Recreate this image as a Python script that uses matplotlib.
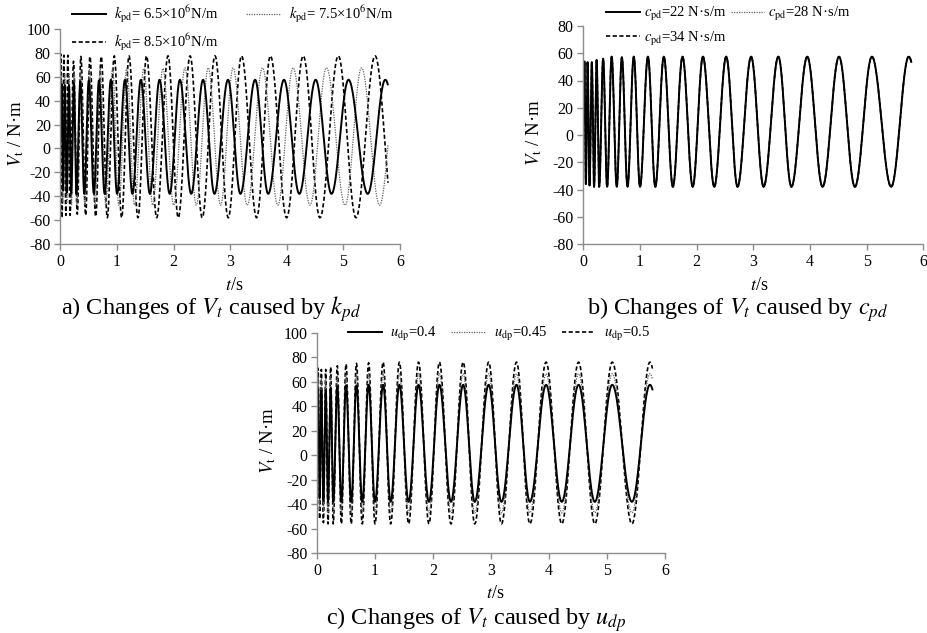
import numpy as np
import matplotlib
matplotlib.use('Agg')
import matplotlib.pyplot as plt
from matplotlib.lines import Line2D

plt.rcParams['font.family'] = ['Liberation Serif', 'DejaVu Serif']
plt.rcParams['mathtext.fontset'] = 'stix'
plt.rcParams['axes.unicode_minus'] = False

T_END = 5.79
V_START = 10.0

# ---------------- base response (solid curve in every panel) ----------------
base_peak_t = [0.02, 0.075, 0.15, 0.235, 0.35, 0.50, 0.68, 0.89, 1.14, 1.42,
               1.75, 2.11, 2.52, 2.96, 3.44, 3.95, 4.51, 5.09, 5.74]
base_trough_t = [0.045, 0.11, 0.19, 0.28, 0.42, 0.59, 0.78, 1.00, 1.27, 1.58,
                 1.93, 2.31, 2.72, 3.18, 3.67, 4.22, 4.79, 5.43, 6.08]

# ---------------- panel a: k_pd ----------------
k65_peak_v = [54, 53, 53, 55, 56, 57, 57, 57.5, 57.5, 57.5, 57.5, 57.5, 57.5,
              57.5, 57.5, 57.5, 57.5, 57.5, 57.5]
k65_trough_v = [-35, -37, -38, -38, -38, -38, -38, -38, -38, -38, -38, -38,
                -38, -38, -38, -38, -38, -38, -38]

k75_peak_t = [0.015, 0.075, 0.15, 0.24, 0.36, 0.51, 0.70, 0.92, 1.17, 1.47,
              1.81, 2.20, 2.61, 3.05, 3.57, 4.11, 4.70, 5.32, 5.96]
k75_trough_t = [0.04, 0.11, 0.195, 0.29, 0.43, 0.61, 0.80, 1.03, 1.31, 1.63,
                2.00, 2.40, 2.83, 3.30, 3.84, 4.41, 5.03, 5.64]
k75_peak_v = [62, 62, 63, 64, 65, 66, 66.5, 67, 67, 67, 67, 67.5, 67.5, 67.5,
              67.5, 67.5, 67.5, 67.5, 67.5]
k75_trough_v = [-45, -46, -47, -47, -47.5, -47.5, -47.5, -47.5, -47.5, -47.5,
                -47.5, -47.5, -47.5, -47.5, -47.5, -47.5, -47.5, -47.5]

k85_peak_t = [0.005, 0.06, 0.13, 0.23, 0.36, 0.52, 0.72, 0.95, 1.21, 1.52,
              1.90, 2.29, 2.73, 3.20, 3.71, 4.29, 4.91, 5.56]
k85_trough_t = [0.027, 0.095, 0.168, 0.297, 0.445, 0.622, 0.827, 1.081, 1.369,
                1.70, 2.081, 2.505, 2.965, 3.466, 3.996, 4.585, 5.221, 5.89]
k85_peak_v = [79, 78, 78, 73, 77, 77, 77, 77.5, 77.5, 77.5, 77.5, 77.5, 77.5,
              77.5, 77.5, 77.5, 77.5, 77.5]
k85_trough_v = [-58, -56, -56, -55, -56, -57, -58, -58, -58, -58, -58, -58,
                -58, -58, -58, -58, -58, -58]

k_labels = [r'$k_{\mathrm{pd}}$= 6.5×10$^{6}$N/m',
            r'$k_{\mathrm{pd}}$= 7.5×10$^{6}$N/m',
            r'$k_{\mathrm{pd}}$= 8.5×10$^{6}$N/m']

# ---------------- panel b: c_pd (curves coincide) ----------------
c_peak_v = [54, 53.5, 53.5, 55, 56, 57.5, 57, 57.5, 57.5, 57.5, 57.5, 57.5,
            57.5, 57.5, 57.5, 57.5, 57.5, 57.5, 57.5]
c_trough_v = [-36, -37, -38, -38, -38, -38, -38, -38, -38, -38, -38, -38,
              -38, -38, -38, -38, -38, -38, -38]
c_labels = [r'$c_{\mathrm{pd}}$=22 N·s/m', r'$c_{\mathrm{pd}}$=28 N·s/m',
            r'$c_{\mathrm{pd}}$=34 N·s/m']

# ---------------- panel c: u_dp ----------------
u04_peak_v = [54, 53, 53, 55, 56, 57, 57, 57.5, 57.5, 57.5, 57.5, 57.5, 57.5,
              57.5, 57.5, 57.5, 57.5, 57.5, 57.5]
u04_trough_v = [-35, -37, -38, -38, -38, -38, -38, -38, -38, -38, -38, -38,
                -38, -38, -38, -38, -38, -38, -38]
u045_peak_v = [63, 62.5, 62.5, 64, 65, 66, 66, 66.5, 66.5, 66.5, 66.5, 66.5,
               66.5, 66.5, 66.5, 66.5, 66.5, 66.5, 66.5]
u045_trough_v = [-44, -46, -47, -47, -47, -47, -47, -47, -47, -47, -47, -47,
                 -47, -47, -47, -47, -47, -47, -47]
u05_peak_v = [71, 70, 70, 72, 73, 74.5, 75, 75.5, 76, 76, 76, 76, 76, 76, 76,
              76, 76, 76, 76]
u05_trough_v = [-52, -55, -56, -56, -56, -56, -56, -56, -56, -56, -56, -56,
                -56, -56, -56, -56, -56, -56, -56]
u_labels = [r'$u_{\mathrm{dp}}$=0.4', r'$u_{\mathrm{dp}}$=0.45',
            r'$u_{\mathrm{dp}}$=0.5']

x_ticks = [0, 1, 2, 3, 4, 5, 6]


def curve(peak_t, peak_v, trough_t, trough_v):
    nodes = sorted(list(zip(peak_t, peak_v)) + list(zip(trough_t, trough_v)))
    nodes = [(0.0, V_START)] + nodes
    ts, vs = [], []
    s = np.linspace(0, 1, 40)
    for (t0, v0), (t1, v1) in zip(nodes[:-1], nodes[1:]):
        ts.append(t0 + s * (t1 - t0))
        vs.append(v0 + (v1 - v0) * (1 - np.cos(np.pi * s)) / 2)
    t = np.concatenate(ts)
    v = np.concatenate(vs)
    m = t <= T_END
    return t[m], v[m]


STY_SOLID = dict(color='black', lw=1.4, linestyle='-')
STY_DOT = dict(color='#606060', lw=0.9, linestyle=(0, (1, 1)))
STY_DASH = dict(color='black', lw=1.2, linestyle=(0, (2.5, 1.5)))

W, H = 928, 633
fig = plt.figure(figsize=(W / 100, H / 100), dpi=100)

TICK_FS = 11.5
LEG_FS = 10.5


def px_axes(x0, x1, ytop, ybot):
    return fig.add_axes([x0 / W, 1 - ybot / H, (x1 - x0) / W, (ybot - ytop) / H])


def style(ax, ylim, yticks):
    ax.set_xlim(0, 6)
    ax.set_ylim(*ylim)
    ax.set_xticks(x_ticks)
    ax.set_yticks(yticks)
    for sp in ['top', 'right']:
        ax.spines[sp].set_visible(False)
    for sp in ['left', 'bottom']:
        ax.spines[sp].set_color('#8c8c8c')
        ax.spines[sp].set_linewidth(1.0)
    ax.tick_params(direction='out', length=4, width=1, color='#8c8c8c',
                   labelsize=TICK_FS, labelcolor='black', pad=3)


def handles():
    return [Line2D([], [], **STY_SOLID), Line2D([], [], **STY_DOT),
            Line2D([], [], **STY_DASH)]


# ---------------- panel a ----------------
axa = px_axes(60.5, 400, 29, 244)
t, v = curve(k85_peak_t, k85_peak_v, k85_trough_t, k85_trough_v)
axa.plot(t, v, **STY_DASH)
t, v = curve(k75_peak_t, k75_peak_v, k75_trough_t, k75_trough_v)
axa.plot(t, v, **STY_DOT)
t, v = curve(base_peak_t, k65_peak_v, base_trough_t, k65_trough_v)
axa.plot(t, v, **STY_SOLID)
style(axa, (-80, 100), list(range(-80, 101, 20)))
h = handles()
axa.legend([h[0], h[2], h[1]], [k_labels[0], k_labels[2], k_labels[1]],
           ncol=2, loc='upper left', bbox_to_anchor=(72 / W, 1 - 4 / H),
           bbox_transform=fig.transFigure, frameon=False, fontsize=LEG_FS,
           handlelength=2.3, handletextpad=0.6, columnspacing=1.9,
           labelspacing=0.45, borderpad=0, borderaxespad=0)

# ---------------- panel b ----------------
axb = px_axes(583.3, 923.5, 26, 244)
t, v = curve(base_peak_t, c_peak_v, base_trough_t, c_trough_v)
axb.plot(t, v, **STY_DASH)
axb.plot(t, v, **STY_DOT)
axb.plot(t, v, **STY_SOLID)
style(axb, (-80, 80), list(range(-80, 81, 20)))
axb.legend([h[0], h[2], h[1]], [c_labels[0], c_labels[2], c_labels[1]],
           ncol=2, loc='upper left', bbox_to_anchor=(606 / W, 1 - 5 / H),
           bbox_transform=fig.transFigure, frameon=False, fontsize=LEG_FS,
           handlelength=2.3, handletextpad=0.3, columnspacing=0.3,
           labelspacing=0.45, borderpad=0, borderaxespad=0)

# ---------------- panel c ----------------
axc = px_axes(317, 665, 332.7, 553.3)
t, v = curve(base_peak_t, u05_peak_v, base_trough_t, u05_trough_v)
axc.plot(t, v, **STY_DASH)
t, v = curve(base_peak_t, u045_peak_v, base_trough_t, u045_trough_v)
axc.plot(t, v, **STY_DOT)
t, v = curve(base_peak_t, u04_peak_v, base_trough_t, u04_trough_v)
axc.plot(t, v, **STY_SOLID)
style(axc, (-80, 100), list(range(-80, 101, 20)))
axc.legend(handles(), u_labels, ncol=3, loc='upper left',
           bbox_to_anchor=(348 / W, 1 - 325 / H),
           bbox_transform=fig.transFigure, frameon=False, fontsize=LEG_FS,
           handlelength=2.3, handletextpad=0.6, columnspacing=1.0,
           borderpad=0, borderaxespad=0)

# ---------------- axis labels and captions ----------------
ylab = r'$V_{\mathrm{t}}$ / N·m'
for (x, y) in [(16, 134), (534, 133), (268, 441)]:
    fig.text(x / W, 1 - y / H, ylab, rotation=90, ha='center', va='center',
             fontsize=13.5)
for (x, y) in [(234, 285), (759, 285), (495, 593)]:
    fig.text(x / W, 1 - y / H, r'$t$/s', ha='center', va='center', fontsize=13)

CAP_FS = 17.5
fig.text(211 / W, 1 - 309 / H, r'a) Changes of $V_t$ caused by $k_{pd}$',
         ha='center', va='center', fontsize=CAP_FS)
fig.text(738 / W, 1 - 310 / H, r'b) Changes of $V_t$ caused by $c_{pd}$',
         ha='center', va='center', fontsize=CAP_FS)
fig.text(476 / W, 1 - 620 / H, r'c) Changes of $V_t$ caused by $u_{dp}$',
         ha='center', va='center', fontsize=CAP_FS)

fig.savefig('out.png', dpi=100)
